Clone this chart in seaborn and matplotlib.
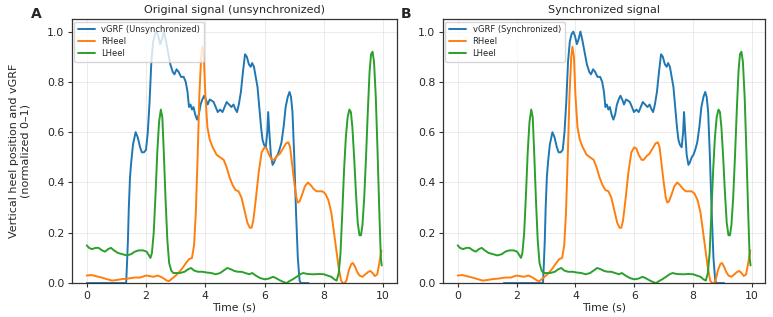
import numpy as np
import pandas as pd
import seaborn as sns
import matplotlib.pyplot as plt

# vGRF, original (unsynchronized) timing
grf_t = [0.0, 0.5, 1.0, 1.33, 1.36, 1.39, 1.42, 1.46, 1.50, 1.56, 1.65, 1.72, 1.80, 1.86, 1.93, 2.00,
         2.06, 2.12, 2.18, 2.24, 2.30, 2.36, 2.42, 2.48, 2.54, 2.60, 2.66, 2.74, 2.82, 2.90, 2.96,
         3.03, 3.10, 3.18, 3.27, 3.34, 3.40, 3.45, 3.50, 3.55, 3.60, 3.66, 3.72, 3.78, 3.84, 3.90,
         3.96, 4.02, 4.08, 4.15, 4.22, 4.28, 4.35, 4.42, 4.50, 4.58, 4.65, 4.72, 4.80, 4.88, 4.95,
         5.02, 5.07, 5.13, 5.20, 5.27, 5.34, 5.40, 5.47, 5.53, 5.58, 5.64, 5.70, 5.76, 5.82, 5.88,
         5.93, 5.98, 6.04, 6.09, 6.12, 6.16, 6.21, 6.27, 6.32, 6.38, 6.44, 6.50, 6.57, 6.64, 6.71,
         6.78, 6.84, 6.89, 6.94, 7.00, 7.06, 7.12, 7.18, 7.22, 7.35, 7.48]
grf_v = [0.0, 0.0, 0.0, 0.0, 0.08, 0.17, 0.30, 0.42, 0.48, 0.55, 0.60, 0.58, 0.54, 0.52, 0.52, 0.53,
         0.60, 0.72, 0.88, 0.96, 0.99, 1.00, 0.98, 0.95, 0.97, 1.00, 0.97, 0.92, 0.87, 0.84, 0.83,
         0.85, 0.84, 0.82, 0.82, 0.80, 0.76, 0.70, 0.71, 0.69, 0.70, 0.67, 0.65, 0.67, 0.71, 0.73,
         0.745, 0.73, 0.71, 0.73, 0.725, 0.72, 0.70, 0.68, 0.69, 0.68, 0.70, 0.72, 0.71, 0.70, 0.71,
         0.69, 0.68, 0.71, 0.76, 0.84, 0.91, 0.90, 0.87, 0.86, 0.875, 0.86, 0.82, 0.78, 0.70, 0.62,
         0.57, 0.55, 0.54, 0.60, 0.68, 0.60, 0.51, 0.47, 0.48, 0.50, 0.51, 0.53, 0.56, 0.62, 0.70,
         0.74, 0.76, 0.74, 0.68, 0.50, 0.28, 0.10, 0.01, 0.0, 0.0, 0.0]

# heel markers (same in both panels)
rheel_t = [0.0, 0.15, 0.30, 0.50, 0.70, 0.85, 1.00, 1.20, 1.40, 1.60, 1.80, 2.00, 2.10, 2.25, 2.40,
           2.55, 2.70, 2.78, 2.90, 3.05, 3.20, 3.35, 3.45, 3.55, 3.62, 3.68, 3.74, 3.80, 3.86, 3.90,
           3.95, 4.00, 4.07, 4.15, 4.25, 4.38, 4.50, 4.62, 4.72, 4.82, 4.92, 5.02, 5.12, 5.22, 5.32,
           5.42, 5.50, 5.56, 5.62, 5.70, 5.80, 5.90, 6.00, 6.07, 6.15, 6.25, 6.32, 6.42, 6.52, 6.62,
           6.72, 6.80, 6.86, 6.92, 7.00, 7.07, 7.12, 7.18, 7.26, 7.36, 7.46, 7.55, 7.65, 7.75, 7.85,
           7.95, 8.05, 8.15, 8.25, 8.33, 8.42, 8.50, 8.58, 8.64, 8.70, 8.76, 8.84, 8.92, 8.98, 9.05,
           9.12, 9.20, 9.30, 9.40, 9.50, 9.57, 9.64, 9.72, 9.80, 9.87, 9.94]
rheel_v = [0.03, 0.032, 0.028, 0.022, 0.015, 0.010, 0.012, 0.016, 0.018, 0.022, 0.022, 0.030, 0.028, 0.025,
           0.030, 0.022, 0.010, 0.008, 0.020, 0.035, 0.055, 0.080, 0.095, 0.100, 0.15, 0.28, 0.50, 0.75,
           0.90, 0.94, 0.90, 0.75, 0.62, 0.57, 0.54, 0.51, 0.50, 0.49, 0.46, 0.42, 0.39, 0.37, 0.365,
           0.34, 0.29, 0.24, 0.22, 0.22, 0.25, 0.33, 0.44, 0.52, 0.54, 0.535, 0.51, 0.49, 0.49, 0.505,
           0.515, 0.535, 0.555, 0.56, 0.54, 0.48, 0.40, 0.34, 0.32, 0.325, 0.35, 0.385, 0.40, 0.39,
           0.375, 0.365, 0.365, 0.365, 0.355, 0.33, 0.28, 0.21, 0.13, 0.06, 0.01, 0.0, 0.0, 0.01,
           0.05, 0.075, 0.08, 0.065, 0.045, 0.03, 0.025, 0.035, 0.045, 0.048, 0.04, 0.028, 0.035,
           0.08, 0.13]
lheel_t = [0.0, 0.08, 0.18, 0.30, 0.40, 0.52, 0.62, 0.72, 0.82, 0.92, 1.05, 1.20, 1.35, 1.50, 1.62,
           1.75, 1.90, 2.02, 2.10, 2.15, 2.20, 2.26, 2.32, 2.38, 2.44, 2.50, 2.55, 2.60, 2.66, 2.72,
           2.78, 2.85, 2.92, 3.00, 3.15, 3.30, 3.42, 3.52, 3.62, 3.75, 3.90, 4.05, 4.20, 4.35, 4.50,
           4.62, 4.74, 4.86, 4.98, 5.10, 5.22, 5.35, 5.48, 5.58, 5.70, 5.85, 6.00, 6.15, 6.28, 6.38,
           6.50, 6.62, 6.74, 6.84, 6.95, 7.08, 7.20, 7.30, 7.45, 7.65, 7.85, 8.00, 8.12, 8.25, 8.35,
           8.43, 8.50, 8.56, 8.62, 8.68, 8.74, 8.80, 8.86, 8.91, 8.96, 9.02, 9.08, 9.14, 9.20, 9.25,
           9.30, 9.36, 9.42, 9.48, 9.54, 9.59, 9.64, 9.69, 9.75, 9.81, 9.87, 9.92, 9.95]
lheel_v = [0.15, 0.14, 0.135, 0.14, 0.14, 0.13, 0.125, 0.135, 0.14, 0.13, 0.12, 0.115, 0.11, 0.115, 0.125,
           0.13, 0.13, 0.125, 0.11, 0.10, 0.12, 0.20, 0.35, 0.52, 0.64, 0.69, 0.66, 0.52, 0.33, 0.17,
           0.08, 0.05, 0.04, 0.04, 0.04, 0.045, 0.055, 0.06, 0.05, 0.045, 0.045, 0.042, 0.04, 0.035,
           0.04, 0.05, 0.06, 0.055, 0.048, 0.045, 0.045, 0.04, 0.035, 0.04, 0.03, 0.02, 0.015, 0.018,
           0.025, 0.02, 0.012, 0.005, 0.0, 0.008, 0.015, 0.025, 0.035, 0.04, 0.036, 0.035, 0.036,
           0.035, 0.03, 0.025, 0.015, 0.01, 0.04, 0.12, 0.28, 0.45, 0.58, 0.66, 0.69, 0.68, 0.62,
           0.50, 0.36, 0.24, 0.19, 0.19, 0.23, 0.34, 0.50, 0.68, 0.84, 0.91, 0.92, 0.88, 0.74, 0.52,
           0.28, 0.10, 0.07]

sync_shift = 1.57

panels = [("A", "Original signal (unsynchronized)", "vGRF (Unsynchronized)", 0.0),
          ("B", "Synchronized signal", "vGRF (Synchronized)", sync_shift)]

sns.set_style("ticks")
plt.rcParams["font.family"] = ["DejaVu Sans"]

fig = plt.figure(figsize=(7.73, 3.17), dpi=100)
ax_a = fig.add_axes([0.093, 0.107, 0.420, 0.833])
ax_b = fig.add_axes([0.573, 0.107, 0.417, 0.833])
pal = sns.color_palette("tab10")

for ax, (letter, title, grf_label, shift) in zip([ax_a, ax_b], panels):
    sns.lineplot(x=np.array(grf_t) + shift, y=grf_v, ax=ax, color=pal[0], lw=1.4,
                 label=grf_label, estimator=None)
    sns.lineplot(x=rheel_t, y=rheel_v, ax=ax, color=pal[1], lw=1.4, label="RHeel", estimator=None)
    sns.lineplot(x=lheel_t, y=lheel_v, ax=ax, color=pal[2], lw=1.4, label="LHeel", estimator=None)
    ax.set_xlim(-0.5, 10.45)
    ax.set_ylim(0, 1.05)
    ax.set_xticks([0, 2, 4, 6, 8, 10])
    ax.set_yticks([0.0, 0.2, 0.4, 0.6, 0.8, 1.0])
    ax.grid(True, color="#dddddd", lw=0.6, alpha=0.7)
    ax.tick_params(labelsize=7.8, length=3, pad=2.5, color="#333333")
    for s in ax.spines.values():
        s.set_color("#333333")
        s.set_linewidth(0.9)
    ax.set_title(title, fontsize=8, pad=4)
    ax.set_xlabel("Time (s)", fontsize=7.8, labelpad=1)
    ax.legend(loc="upper left", fontsize=6, frameon=True, borderaxespad=0.3,
              handlelength=2.0, labelspacing=0.35, borderpad=0.45)

ax_a.set_ylabel("Vertical heel position and vGRF\n(normalized 0\u20131)", fontsize=8, labelpad=12)
fig.text(0.040, 0.955, "A", fontsize=10, fontweight="bold", va="center")
fig.text(0.518, 0.955, "B", fontsize=10, fontweight="bold", va="center")

fig.savefig("out.png", dpi=100)
